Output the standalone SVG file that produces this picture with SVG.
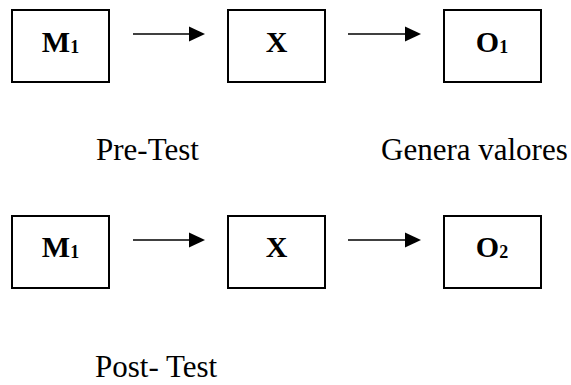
<svg xmlns="http://www.w3.org/2000/svg" width="571" height="385" viewBox="0 0 571 385">
<defs>
<style>
.box{fill:#fff;stroke:#000;stroke-width:2}
.lbl{font-family:"Liberation Serif","Times New Roman","DejaVu Serif",serif;font-weight:bold;font-size:30px;fill:#000;text-anchor:middle}
.sub{font-size:18px}
.cap{font-family:"Liberation Serif","Times New Roman","DejaVu Serif",serif;font-size:31px;fill:#000}
.arr{stroke:#000;stroke-width:1.6;fill:none}
</style>
</defs>
<rect width="571" height="385" fill="#fff"/>
<g id="connectors">
<line class="arr" x1="133" y1="34" x2="190" y2="34"/>
<path d="M189,26.5 L205,34 L189,41.5 Z" fill="#000"/>
<line class="arr" x1="348" y1="34" x2="406" y2="34"/>
<path d="M405,26.5 L421,34 L405,41.5 Z" fill="#000"/>
<line class="arr" x1="133" y1="240" x2="190" y2="240"/>
<path d="M189,232.5 L205,240 L189,247.5 Z" fill="#000"/>
<line class="arr" x1="348" y1="240" x2="406" y2="240"/>
<path d="M405,232.5 L421,240 L405,247.5 Z" fill="#000"/>
</g>
<g id="m1-top">
<rect class="box" x="12" y="10" width="97" height="72"/>
<text class="lbl" x="60.5" y="52">M<tspan class="sub" dy="1">1</tspan></text>
</g>
<g id="x-top">
<rect class="box" x="228" y="10" width="97" height="72"/>
<text class="lbl" x="276.5" y="52">X</text>
</g>
<g id="o1-top">
<rect class="box" x="444" y="10" width="97" height="72"/>
<text class="lbl" x="492" y="52">O<tspan class="sub" dy="1">1</tspan></text>
</g>
<g id="m1-bottom">
<rect class="box" x="12" y="216" width="97" height="72"/>
<text class="lbl" x="60.5" y="257">M<tspan class="sub" dy="1">1</tspan></text>
</g>
<g id="x-bottom">
<rect class="box" x="228" y="216" width="97" height="72"/>
<text class="lbl" x="276.5" y="257">X</text>
</g>
<g id="o2-bottom">
<rect class="box" x="444" y="216" width="97" height="72"/>
<text class="lbl" x="492" y="257">O<tspan class="sub" dy="1">2</tspan></text>
</g>
<g id="labels">
<text class="cap" x="96" y="160">Pre-Test</text>
<text class="cap" x="381" y="160">Genera valores</text>
<text class="cap" x="95" y="377">Post- Test</text>
</g>
</svg>
